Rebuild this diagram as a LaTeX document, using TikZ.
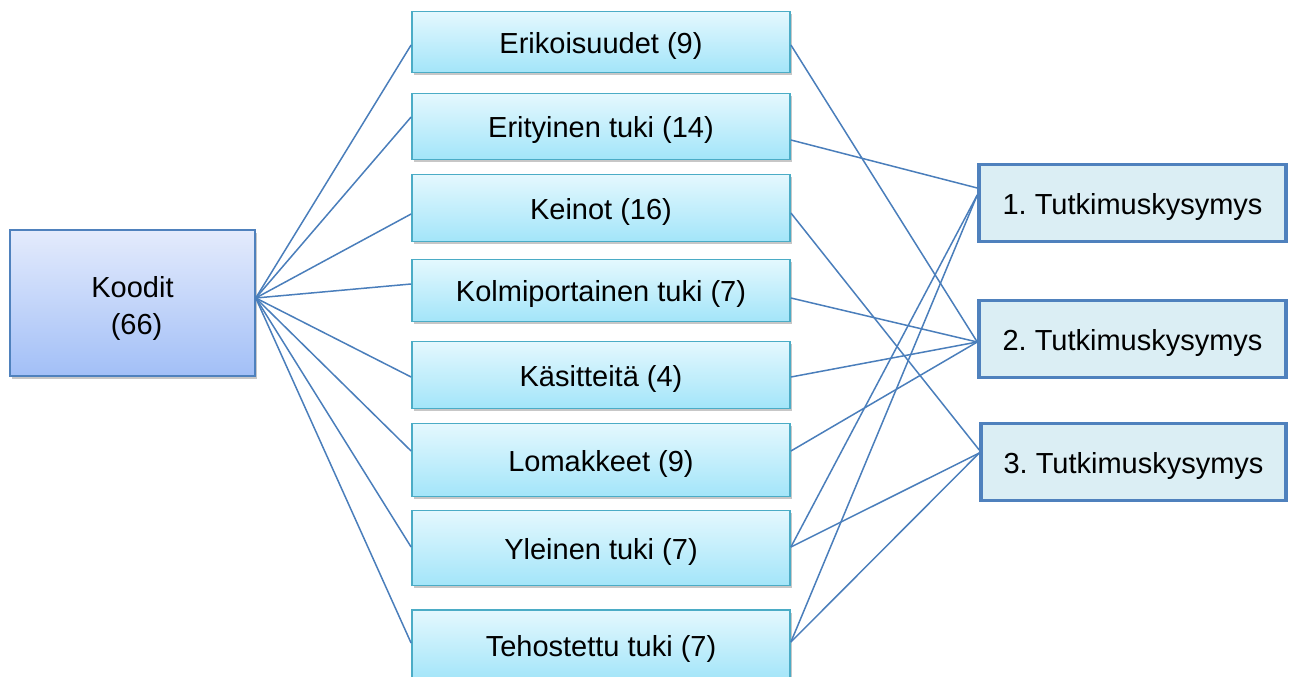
\documentclass[tikz,border=0pt]{standalone}
\usepackage{fontspec}
\setmainfont{Liberation Sans}
\usetikzlibrary{shadows}
\frenchspacing
\definecolor{conn}{HTML}{4A7EBB}
\definecolor{midborder}{HTML}{4BACC6}
\definecolor{midtop}{HTML}{E4F8FE}
\definecolor{midbot}{HTML}{A3E5F9}
\definecolor{kbord}{HTML}{4F81BD}
\definecolor{ktop}{HTML}{E4EBFC}
\definecolor{kbot}{HTML}{A2BFF7}
\definecolor{rfill}{HTML}{DBEEF4}
\definecolor{rbord}{HTML}{4F81BD}
\begin{document}
\begin{tikzpicture}[x=1pt,y=-1pt,
  lbl/.style={font=\fontsize{29}{37}\selectfont, text=black},
  shad/.style={drop shadow={shadow xshift=2pt, shadow yshift=-2.5pt, fill=black, opacity=0.22}},
  midbox/.style={lbl, shad, draw=midborder, line width=1.8pt, top color=midtop, bottom color=midbot,
    minimum width=378pt, inner sep=0pt, text height=24pt, text depth=2pt},
  koodbox/.style={lbl, shad, draw=kbord, line width=1.5pt, top color=ktop, bottom color=kbot,
    minimum width=245pt, minimum height=146pt, inner sep=0pt, align=center},
  rqbox/.style={lbl, draw=rbord, line width=3.5pt, fill=rfill, minimum width=307pt, minimum height=77pt,
    inner sep=0pt, text height=24pt, text depth=2pt},
  link/.style={draw=conn, line width=1.5pt}
]
\useasboundingbox (0,0) rectangle (1290,677);

\node[koodbox] (k) at (132.5,303) {\rule{0pt}{31pt}Koodit\\\hspace*{0.28em}(66)};

\node[midbox, minimum height=61pt] (b1) at (601,42) {Erikoisuudet (9)};
\node[midbox, minimum height=66pt] (b2) at (601,126.5) {Erityinen tuki (14)};
\node[midbox, minimum height=67pt] (b3) at (601,208) {Keinot (16)};
\node[midbox, minimum height=62pt] (b4) at (601,290.5) {Kolmiportainen tuki (7)};
\node[midbox, minimum height=67pt] (b5) at (601,375) {Käsitteitä (4)};
\node[midbox, minimum height=73pt] (b6) at (601,460) {Lomakkeet (9)};
\node[midbox, minimum height=75pt] (b7) at (601,548) {Yleinen tuki (7)};
\node[midbox, minimum height=70pt] (b8) at (601,645) {Tehostettu tuki (7)};

\node[rqbox] (r1) at (1132.5,203) {1. Tutkimuskysymys};
\node[rqbox] (r2) at (1132.5,339) {2. Tutkimuskysymys};
\node[rqbox, minimum width=305pt] (r3) at (1133.5,462) {3. Tutkimuskysymys};

\coordinate (hub) at ([yshift=5pt]k.east);

% Koodit to categories
\draw[link] (hub) -- ([yshift=-3pt]b1.west);
\draw[link] (hub) -- ([yshift=9.5pt]b2.west);
\draw[link] (hub) -- ([yshift=-6pt]b3.west);
\draw[link] (hub) -- ([yshift=6.5pt]b4.west);
\draw[link] (hub) -- ([yshift=-2pt]b5.west);
\draw[link] (hub) -- ([yshift=9pt]b6.west);
\draw[link] (hub) -- ([yshift=1pt]b7.west);
\draw[link] (hub) -- ([yshift=2pt]b8.west);

% categories to research questions
\draw[link] ([yshift=-3pt]b1.east) -- ([yshift=-3pt]r2.west);
\draw[link] ([yshift=-13.5pt]b2.east) -- ([yshift=15pt]r1.west);
\draw[link] ([yshift=-5pt]b3.east) -- ([yshift=12pt]r3.west);
\draw[link] ([yshift=-7.5pt]b4.east) -- ([yshift=-3pt]r2.west);
\draw[link] ([yshift=-2pt]b5.east) -- ([yshift=-3pt]r2.west);
\draw[link] ([yshift=9pt]b6.east) -- ([yshift=-3pt]r2.west);
\draw[link] ([yshift=1pt]b7.east) -- ([yshift=8pt]r1.west);
\draw[link] ([yshift=1pt]b7.east) -- ([yshift=9pt]r3.west);
\draw[link] ([yshift=3pt]b8.east) -- ([yshift=8pt]r1.west);
\draw[link] ([yshift=3pt]b8.east) -- ([yshift=9pt]r3.west);
\end{tikzpicture}
\end{document}
